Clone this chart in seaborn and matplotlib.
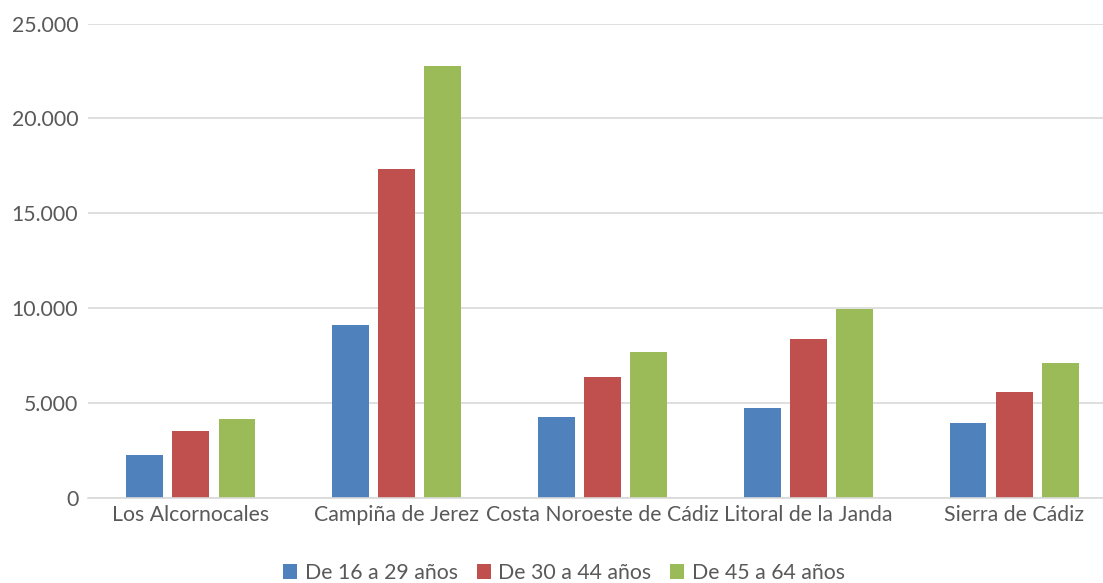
import matplotlib
matplotlib.use("Agg")
import matplotlib.pyplot as plt
import seaborn as sns
import pandas as pd
from matplotlib.ticker import FuncFormatter, MultipleLocator
from matplotlib.patches import Patch

categories = ["Los Alcornocales", "Campiña de Jerez", "Costa Noroeste de Cádiz",
              "Litoral de la Janda", "Sierra de Cádiz"]
series_names = ["De 16 a 29 años", "De 30 a 44 años", "De 45 a 64 años"]
vals_16_29 = [2264, 9118, 4243, 4718, 3926]
vals_30_44 = [3533, 17310, 6356, 8363, 5563]
vals_45_64 = [4158, 22752, 7676, 9947, 7095]
colors = ["#4F81BD", "#C0504D", "#9BBB59"]

rows = []
for name, vals in zip(series_names, [vals_16_29, vals_30_44, vals_45_64]):
    for c, v in zip(categories, vals):
        rows.append({"cat": c, "serie": name, "val": v})
df = pd.DataFrame(rows)

sns.set_theme(style="white")
plt.rcParams['font.family'] = ['Lato', 'DejaVu Sans']

fig = plt.figure(figsize=(11.03, 5.83), dpi=100)
ax = fig.add_axes([88/1103, (583-498)/583, (1117-88)/1103, (498-23.5)/583])

sns.barplot(data=df, x="cat", y="val", hue="serie", order=categories,
            hue_order=series_names, palette=colors, width=0.672, gap=0.2,
            saturation=1, ax=ax, legend=False, edgecolor="none")

ax.set_ylim(0, 25000)
ax.set_xlim(-0.5, len(categories) - 0.5)
ax.yaxis.set_major_locator(MultipleLocator(5000))
ax.yaxis.set_major_formatter(FuncFormatter(lambda v, p: f"{int(v):,}".replace(",", ".")))
ax.grid(axis="y", color="#D9D9D9", linewidth=1.2)
ax.set_axisbelow(True)
for s in ["top", "right", "left"]:
    ax.spines[s].set_visible(False)
ax.spines["bottom"].set_color("#D9D9D9")
ax.spines["bottom"].set_linewidth(1.2)
ax.set_xlabel("")
ax.set_ylabel("")
ax.tick_params(axis="both", length=0, labelsize=15.3, labelcolor="#595959")
ax.tick_params(axis="y", pad=7)
ax.tick_params(axis="x", pad=5)

handles = [Patch(facecolor=c, edgecolor="none", label=n) for c, n in zip(colors, series_names)]
fig.legend(handles=handles, loc="center", bbox_to_anchor=(564/1103, 1 - 573/583),
           ncol=3, frameon=False, fontsize=15.3, labelcolor="#595959",
           handlelength=0.65, handleheight=0.65, handletextpad=0.35, columnspacing=0.9)

fig.savefig("out.png", dpi=100)
